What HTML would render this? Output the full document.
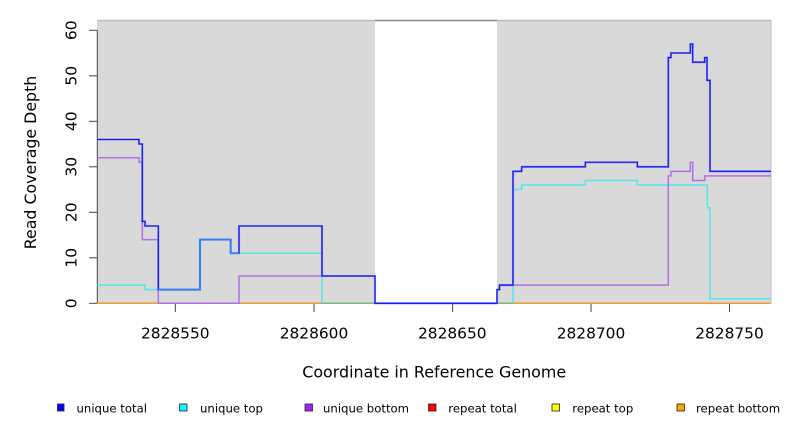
<!DOCTYPE html>
<html><head><meta charset="utf-8"><style>
html,body{margin:0;padding:0;background:#fff;}
svg{display:block;}
text{font-family:"DejaVu Sans","Liberation Sans",sans-serif;fill:#000;}
</style></head><body>
<svg width="792" height="432" viewBox="0 0 792 432" xmlns="http://www.w3.org/2000/svg">
<rect x="97" y="20.5" width="278" height="282.8" fill="#d9d9d9"/>
<rect x="497" y="20.5" width="274" height="282.8" fill="#d9d9d9"/>
<line x1="97" y1="20.5" x2="375" y2="20.5" stroke="#bdbdbd" stroke-width="1.5"/>
<line x1="497" y1="20.5" x2="771" y2="20.5" stroke="#bdbdbd" stroke-width="1.5"/>
<line x1="375" y1="20.5" x2="497" y2="20.5" stroke="#888" stroke-width="1.5"/>
<line x1="771" y1="20" x2="771" y2="303.3" stroke="#bdbdbd" stroke-width="1"/>
<!-- y axis -->
<line x1="97.3" y1="30.3" x2="97.3" y2="303.3" stroke="#444" stroke-width="1"/>
<g stroke="#444" stroke-width="1">
<line x1="89" y1="303.3" x2="97.3" y2="303.3"/>
<line x1="89" y1="257.8" x2="97.3" y2="257.8"/>
<line x1="89" y1="212.3" x2="97.3" y2="212.3"/>
<line x1="89" y1="166.8" x2="97.3" y2="166.8"/>
<line x1="89" y1="121.3" x2="97.3" y2="121.3"/>
<line x1="89" y1="75.8" x2="97.3" y2="75.8"/>
<line x1="89" y1="30.3" x2="97.3" y2="30.3"/>
</g>
<g font-size="15.5" text-anchor="middle">
<text transform="translate(76.5,303.3) rotate(-90)">0</text>
<text transform="translate(76.5,257.8) rotate(-90)">10</text>
<text transform="translate(76.5,212.3) rotate(-90)">20</text>
<text transform="translate(76.5,166.8) rotate(-90)">30</text>
<text transform="translate(76.5,121.3) rotate(-90)">40</text>
<text transform="translate(76.5,75.8) rotate(-90)">50</text>
<text transform="translate(76.5,30.3) rotate(-90)">60</text>
</g>
<text transform="translate(36,162.5) rotate(-90)" font-size="15.8" text-anchor="middle">Read Coverage Depth</text>
<!-- x ticks -->
<g stroke="#444" stroke-width="1">
<line x1="175.3" y1="303.3" x2="175.3" y2="312"/>
<line x1="314" y1="303.3" x2="314" y2="312"/>
<line x1="452.6" y1="303.3" x2="452.6" y2="312"/>
<line x1="591" y1="303.3" x2="591" y2="312"/>
<line x1="729.5" y1="303.3" x2="729.5" y2="312"/>
</g>
<g font-size="15.4" text-anchor="middle">
<text x="175.3" y="338.3">2828550</text>
<text x="314" y="338.3">2828600</text>
<text x="452.3" y="338.3">2828650</text>
<text x="591" y="338.3">2828700</text>
<text x="729.5" y="338.3">2828750</text>
</g>
<text x="434.2" y="377.3" font-size="15.9" text-anchor="middle">Coordinate in Reference Genome</text>
<!-- zero lines -->
<line x1="97" y1="303.3" x2="771" y2="303.3" stroke="#f39a2a" stroke-width="1.5"/>
<line x1="158.3" y1="303.3" x2="239" y2="303.3" stroke="#d0507a" stroke-width="1.5"/>
<line x1="375" y1="303.3" x2="497" y2="303.3" stroke="#7a4cf0" stroke-width="1.5"/>
<line x1="322" y1="303.3" x2="375" y2="303.3" stroke="#7ab88a" stroke-width="1.5"/>
<line x1="499" y1="303.3" x2="513" y2="303.3" stroke="#7ab88a" stroke-width="1.5"/>
<!-- series -->
<g fill="none" stroke-linejoin="miter">
<path d="M97,285.1 H145 V289.65 H200 V239.6 H230.7 V253.25 H322 V303.3 M513,303.3 V189.55 H521.7 V185 H585.3 V180.45 H637.3 V185 H707.3 V207.75 H710 V298.75 H771" stroke="#52e6e8" stroke-width="1.5"/>
<path d="M97,157.7 H139 V162.25 H142.3 V239.6 H158.3 V303.3 H239 V276 H375 M497,289.65 H499.5 V285.1 H668.3 V175.9 H671 V171.35 H690.3 V162.25 H692.7 V180.45 H704.7 V175.9 H771" stroke="#b46ee6" stroke-width="1.5"/>
<path d="M97,139.5 H139 V144 H142.3 V221.4 H145 V226 H158.3 V289.65 H200 V239.6 H230.7 V253.25 H239 V226 H322 V276 H375 V303.3 H497 V289.65 H499.5 V285.1 H513 V171.35 H521.7 V166.8 H585.3 V162.25 H637.3 V166.8 H668.3 V57.6 H671 V53 H690.3 V44 H692.7 V62.15 H704.7 V57.6 H707 V80.35 H710 V171.35 H771" stroke="#6a6af8" stroke-width="2.1" opacity="0.7"/>
<path d="M97,139.5 H139 V144 H142.3 V221.4 H145 V226 H158.3 V289.65 H200 V239.6 H230.7 V253.25 H239 V226 H322 V276 H375 V303.3 H497 V289.65 H499.5 V285.1 H513 V171.35 H521.7 V166.8 H585.3 V162.25 H637.3 V166.8 H668.3 V57.6 H671 V53 H690.3 V44 H692.7 V62.15 H704.7 V57.6 H707 V80.35 H710 V171.35 H771" stroke="#1010ee" stroke-width="1.1"/>
<path d="M158.3,289.65 H200 V239.6 H230.7 V253.25 H239" stroke="#2a84f4" stroke-width="1.8"/>
</g>
<!-- legend -->
<g stroke="#222" stroke-width="0.8">
<rect x="57.5" y="404" width="6.5" height="7" fill="#0000ff"/>
<rect x="179.5" y="404" width="7.5" height="7" fill="#00ffff"/>
<rect x="305" y="404" width="7.5" height="7" fill="#a020f0"/>
<rect x="428.5" y="404" width="7.5" height="7" fill="#ff0000"/>
<rect x="552" y="404" width="7.5" height="7" fill="#ffff00"/>
<rect x="677" y="404" width="7.5" height="7" fill="#ffa500"/>
</g>
<g font-size="11.7">
<text x="76.5" y="412.5">unique total</text>
<text x="200" y="412.5">unique top</text>
<text x="323" y="412.5">unique bottom</text>
<text x="448.3" y="412.5">repeat total</text>
<text x="572.3" y="412.5">repeat top</text>
<text x="696" y="412.5">repeat bottom</text>
</g>
</svg>
</body></html>
